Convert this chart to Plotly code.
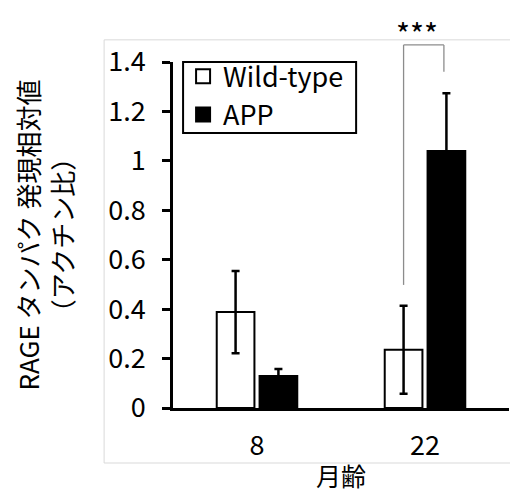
import plotly.graph_objects as go

categories = ["8", "22"]
wild_type = [0.388, 0.236]
wild_type_err = [0.166, 0.178]
app = [0.129, 1.040]
app_err = [0.029, 0.234]
y_ticks = [0, 0.2, 0.4, 0.6, 0.8, 1.0, 1.2, 1.4]
y_tick_labels = ["0", "0.2", "0.4", "0.6", "0.8", "1", "1.2", "1.4"]

FONT = "Noto Sans CJK JP"
YMAX = 1.4
BARGAP = 0.49

fig = go.Figure()
fig.add_trace(go.Bar(
    x=categories, y=wild_type, name="Wild-type", showlegend=False,
    marker=dict(color="white", line=dict(color="black", width=2)),
    error_y=dict(type="data", array=wild_type_err, color="black", thickness=2.5, width=4),
))
fig.add_trace(go.Bar(
    x=categories, y=app, name="APP", showlegend=False,
    marker=dict(color="black", line=dict(color="black", width=2)),
    error_y=dict(type="data", array=app_err, color="black", thickness=2.5, width=4),
))
# legend entries with larger square symbols
fig.add_trace(go.Scatter(
    x=[None], y=[None], mode="markers", name="Wild-type",
    marker=dict(symbol="square", size=14, color="white", line=dict(color="black", width=2)),
))
fig.add_trace(go.Scatter(
    x=[None], y=[None], mode="markers", name="APP",
    marker=dict(symbol="square", size=14, color="black", line=dict(color="black", width=2)),
))

# significance bracket between Wild-type and APP at 22 months
slot = (1 - BARGAP) / 2
xl = 1 - slot / 2
xr = 1 + slot / 2 - 0.015
top = 1.469
left_bottom = wild_type[1] + wild_type_err[1] + 0.084
right_bottom = app[1] + app_err[1] + 0.087
bracket = dict(color="#8c8c8c", width=1.3)
fig.add_shape(type="line", xref="x", yref="paper", x0=xl, x1=xl, y0=left_bottom / YMAX, y1=top / YMAX, line=bracket)
fig.add_shape(type="line", xref="x", yref="paper", x0=xl, x1=xr, y0=top / YMAX, y1=top / YMAX, line=bracket)
fig.add_shape(type="line", xref="x", yref="paper", x0=xr, x1=xr, y0=right_bottom / YMAX, y1=top / YMAX, line=bracket)
fig.add_annotation(text="***", xref="x", yref="paper", x=(xl + xr) / 2 - 0.04, y=1.085,
                   showarrow=False, font=dict(family=FONT, size=30, color="black"),
                   xanchor="center", yanchor="middle")

# light gray outer frame
fig.add_shape(type="rect", xref="paper", yref="paper", x0=-0.205, x1=1.08, y0=-0.159, y1=1.064,
              line=dict(color="#d9d9d9", width=1), layer="below")
# legend frame
fig.add_shape(type="rect", xref="paper", yref="paper", x0=0.03, x1=0.545, y0=0.795, y1=1.0,
              line=dict(color="black", width=2), fillcolor="white", layer="below")

fig.update_layout(
    width=510, height=485,
    margin=dict(l=165, r=9, t=54, b=85),
    paper_bgcolor="white", plot_bgcolor="rgba(0,0,0,0)",
    barmode="group", bargap=BARGAP, bargroupgap=0.12,
    font=dict(family=FONT, size=27, color="black"),
    showlegend=True,
    legend=dict(x=0.03, y=1.028, xanchor="left", yanchor="top",
                borderwidth=0, bgcolor="rgba(0,0,0,0)",
                font=dict(family=FONT, size=27, color="black"),
                tracegroupgap=0, itemwidth=30, itemsizing="trace"),
    xaxis=dict(
        showline=True, linecolor="black", linewidth=2.5, ticks="",
        showgrid=False, zeroline=False,
        tickfont=dict(family=FONT, size=27, color="black"),
        ticklabelstandoff=12,
        title=dict(text="月齢", font=dict(family=FONT, size=25, color="black"), standoff=8),
        automargin=False,
    ),
    yaxis=dict(
        range=[0, YMAX], showline=True, linecolor="black", linewidth=2.5,
        ticks="outside", ticklen=8, tickwidth=2.5, tickcolor="black",
        tickvals=y_ticks, ticktext=y_tick_labels,
        showgrid=False, zeroline=False,
        tickfont=dict(family=FONT, size=27, color="black"),
        ticklabelstandoff=11,
        title=dict(text="RAGE タンパク 発現相対値<br>（アクチン比）",
                   font=dict(family=FONT, size=26, color="black"), standoff=28),
        automargin=False,
    ),
)

fig.write_html("out.html")
